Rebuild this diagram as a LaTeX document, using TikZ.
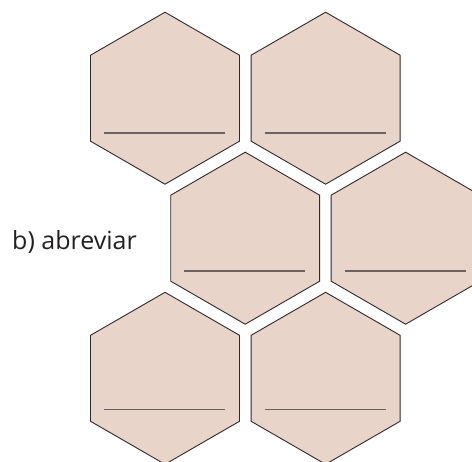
\documentclass[tikz,border=0pt]{standalone}
\usepackage{fontspec}
\setmainfont{Open Sans}
\definecolor{hexfill}{HTML}{E9D4CA}
\definecolor{hexedge}{HTML}{2E2A2A}
\definecolor{blankline}{HTML}{6E6260}
\definecolor{labeltext}{HTML}{231F20}
\begin{document}
\begin{tikzpicture}[x=1pt,y=-1pt,
  hexcell/.style={draw=hexedge,fill=hexfill,line width=0.9pt,line join=miter},
  blankrule/.style={draw=blankline,line width=1.5pt},
  label/.style={font=\fontsize{25}{30}\selectfont,text=labeltext,inner sep=0pt,anchor=base west}]
\useasboundingbox (0,0) rectangle (472,462);
\foreach \cx/\cy/\dy in {165/98.2/35, 325.6/98.2/35, 245.2/238.2/33, 405.6/238.2/33, 165/378.3/31, 325.6/378.3/31}{
  \draw[hexcell] (\cx,\cy) +(90:86) -- +(30:86) -- +(-30:86) -- +(-90:86) -- +(-150:86) -- +(150:86) -- cycle;
  \draw[blankrule] (\cx-61,\cy+\dy) -- (\cx+60,\cy+\dy);
}
\node[label] (lab) at (12,250) {b) abreviar};
\end{tikzpicture}
\end{document}
